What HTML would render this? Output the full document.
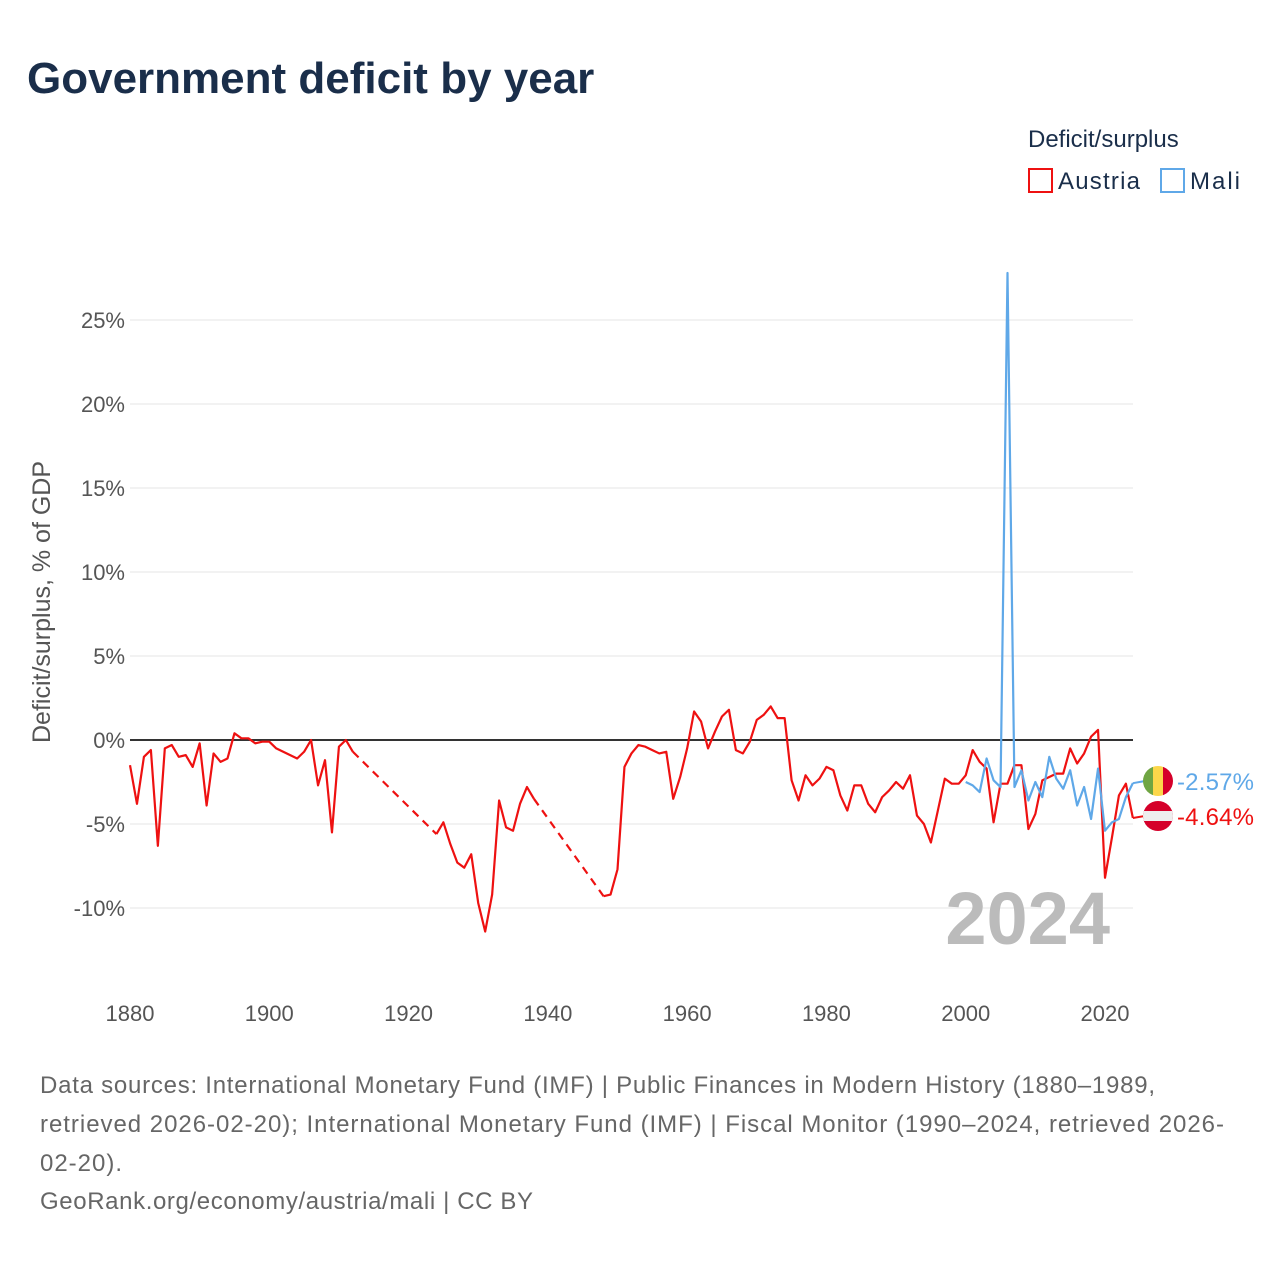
<!DOCTYPE html>
<html><head><meta charset="utf-8"><style>
body{margin:0;background:#fff;font-family:"Liberation Sans",sans-serif;}
.wrap{position:relative;width:1280px;height:1280px;overflow:hidden;}
</style></head><body>
<div class="wrap">
<svg id="chart" width="1280" height="1280" style="position:absolute;left:0;top:0">
<text x="27" y="93" font-size="44" font-weight="bold" fill="#1a2e4a">Government deficit by year</text>
<text x="1028" y="147" font-size="24" fill="#1a2e4a">Deficit/surplus</text>
<g><rect x="1029" y="169" width="23" height="23" fill="none" stroke="#ee1111" stroke-width="2"/><text x="1058" y="189" font-size="24" fill="#1a2e4a" textLength="82">Austria</text></g>
<g><rect x="1161" y="169" width="23" height="23" fill="none" stroke="#5fa8e8" stroke-width="2"/><text x="1190" y="189" font-size="24" fill="#1a2e4a" textLength="50">Mali</text></g>
<text transform="translate(50,602) rotate(-90)" text-anchor="middle" font-size="25" fill="#555">Deficit/surplus, % of GDP</text>
<g id="grid"></g><g id="marks"></g>
<text x="1110" y="944" text-anchor="end" font-size="74" font-weight="bold" fill="#bbbbbb">2024</text>
<g font-size="24" fill="#666">
<text x="40" y="1093" textLength="1115">Data sources: International Monetary Fund (IMF) | Public Finances in Modern History (1880–1989,</text>
<text x="40" y="1132" textLength="1184">retrieved 2026-02-20); International Monetary Fund (IMF) | Fiscal Monitor (1990–2024, retrieved 2026-</text>
<text x="40" y="1171" textLength="82">02-20).</text>
<text x="40" y="1209" textLength="493">GeoRank.org/economy/austria/mali | CC BY</text>
</g>
</svg>
</div>
<script>
const yTicks=[25,20,15,10,5,0,-5,-10];
const xTicks=[1880,1900,1920,1940,1960,1980,2000,2020];
const austriaStart=1880;
const austria=[-1.5,-3.8,-1.0,-0.6,-6.3,-0.5,-0.3,-1.0,-0.9,-1.6,-0.2,-3.9,-0.8,-1.3,-1.1,0.4,0.1,0.1,-0.2,-0.1,-0.1,-0.5,-0.7,-0.9,-1.1,-0.7,0.0,-2.7,-1.2,-5.5,-0.4,0.0,-0.7,
null,null,null,null,null,null,null,null,null,null,null,
-5.6,-4.9,-6.2,-7.3,-7.6,-6.8,-9.7,-11.4,-9.2,-3.6,-5.2,-5.4,-3.8,-2.8,-3.5,
null,null,null,null,null,null,null,null,null,
-9.3,-9.2,-7.7,-1.6,-0.8,-0.3,-0.4,-0.6,-0.8,-0.7,-3.5,-2.2,-0.5,1.7,1.1,-0.5,0.5,1.4,1.8,-0.6,-0.8,-0.1,1.2,1.5,2.0,1.3,1.3,-2.4,-3.6,-2.1,-2.7,-2.3,-1.6,-1.8,-3.3,-4.2,-2.7,-2.7,-3.8,-4.3,-3.4,-3.0,-2.5,-2.9,-2.1,-4.5,-5.0,-6.1,-4.2,-2.3,-2.6,-2.6,-2.1,-0.6,-1.3,-1.7,-4.9,-2.6,-2.6,-1.5,-1.5,-5.3,-4.4,-2.4,-2.2,-2.0,-2.0,-0.5,-1.4,-0.8,0.2,0.6,-8.2,-5.8,-3.3,-2.6,-4.64];
const maliStart=2000;
const mali=[-2.5,-2.7,-3.1,-1.1,-2.4,-2.8,27.8,-2.8,-1.8,-3.6,-2.5,-3.4,-1.0,-2.3,-2.9,-1.8,-3.9,-2.8,-4.7,-1.7,-5.4,-4.9,-4.7,-3.4,-2.57];
const NS='http://www.w3.org/2000/svg';
const X=y=>130+(y-1880)*975/140;
const Y=v=>740-v*16.8;
function mk(t,a,p){const e=document.createElementNS(NS,t);for(const k in a)e.setAttribute(k,a[k]);(p||document.getElementById('marks')).appendChild(e);return e;}
const grid=document.getElementById('grid');
yTicks.forEach(v=>{
 const l=mk('line',{x1:130,x2:1133,y1:Y(v),y2:Y(v),stroke:v===0?'#333':'#e6e6e6','stroke-width':v===0?2:1},grid);
 
 
 const t=mk('text',{x:125,y:Y(v)+8,'text-anchor':'end','font-size':22,fill:'#555'},grid);
 t.textContent=v+'%';
 
 
});
xTicks.forEach(yr=>{
 const t=mk('text',{x:X(yr),y:1021,'text-anchor':'middle','font-size':22,fill:'#555'},grid);
 t.textContent=yr;
 
 
});
function drawSeries(vals,start,color,name){
 let seg=[],segs=[];
 vals.forEach((v,i)=>{if(v===null){if(seg.length)segs.push(seg);seg=[];}else seg.push([X(start+i),Y(v)]);});
 if(seg.length)segs.push(seg);
 segs.forEach((s,k)=>{
  const p=mk('polyline',{points:s.map(q=>q.join(',')).join(' '),fill:'none',stroke:color,'stroke-width':2.2,'stroke-linejoin':'round'});
  
  
  if(k>0){const a=segs[k-1][segs[k-1].length-1],b=s[0];
   const d=mk('line',{x1:a[0],y1:a[1],x2:b[0],y2:b[1],stroke:color,'stroke-width':2.2,'stroke-dasharray':'8,6'});
   
   }
 });
}
drawSeries(austria,austriaStart,'#ee1111','austria');
drawSeries(mali,maliStart,'#5fa8e8','mali');
const aEnd=austria[austria.length-1], mEnd=mali[mali.length-1];
function endLabel(v,ly,color,name,flag){
 const lx=X(2024);
 const c=mk('line',{x1:lx,y1:Y(v),x2:1145,y2:ly,stroke:color,'stroke-width':2});
 
 
 const g=mk('g',{});
 
 
 flag(g,1158,ly);
 const t=mk('text',{x:1177,y:ly+9,'font-size':24,fill:color,textLength:77});
 t.textContent=v.toFixed(2)+'%';
 
 
}
endLabel(mEnd,781,'#5fa8e8','mali',(g,cx,cy)=>{
 mk('defs',{},g).innerHTML='<clipPath id="cm"><circle cx="'+cx+'" cy="'+cy+'" r="15"/></clipPath>';
 mk('rect',{x:cx-15,y:cy-15,width:10,height:30,fill:'#6fa542','clip-path':'url(#cm)'},g);
 mk('rect',{x:cx-5,y:cy-15,width:10,height:30,fill:'#fcd74a','clip-path':'url(#cm)'},g);
 mk('rect',{x:cx+5,y:cy-15,width:10,height:30,fill:'#d5002a','clip-path':'url(#cm)'},g);
});
endLabel(aEnd,816,'#ee1111','austria',(g,cx,cy)=>{
 mk('defs',{},g).innerHTML='<clipPath id="ca"><circle cx="'+cx+'" cy="'+cy+'" r="15"/></clipPath>';
 mk('rect',{x:cx-15,y:cy-15,width:30,height:30,fill:'#d5002a','clip-path':'url(#ca)'},g);
 mk('rect',{x:cx-15,y:cy-5,width:30,height:10,fill:'#eeeeee','clip-path':'url(#ca)'},g);
});
</script>
</body></html>
